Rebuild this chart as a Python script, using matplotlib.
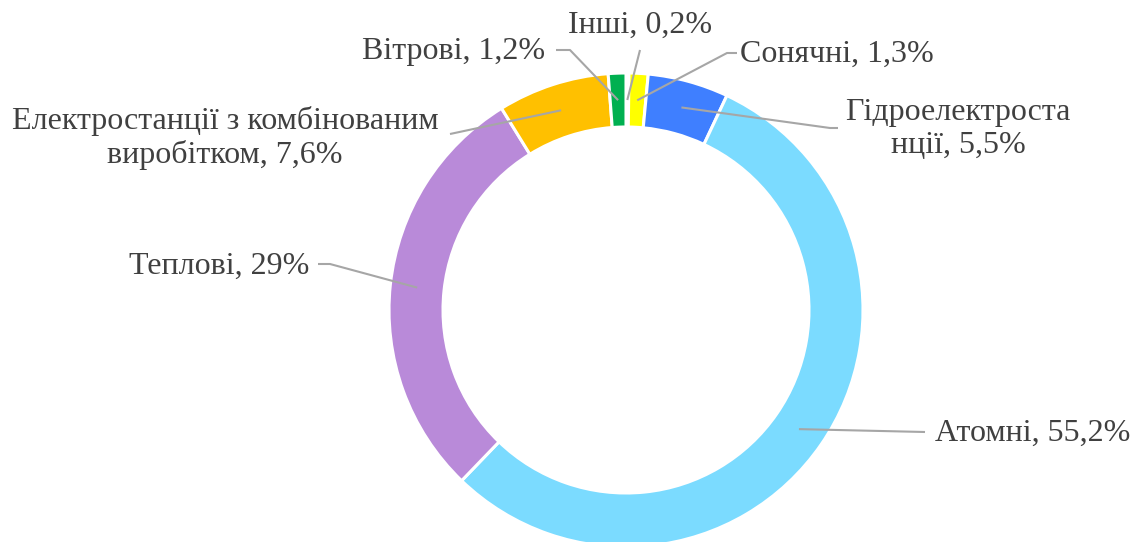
import numpy as np
import matplotlib
matplotlib.use("Agg")
import matplotlib.pyplot as plt

# Data (clockwise from 12 o'clock)
categories = ["Інші", "Сонячні", "Гідроелектроста\nнції", "Атомні", "Теплові",
              "Електростанції з комбінованим\nвиробітком", "Вітрові"]
values = [0.2, 1.3, 5.5, 55.2, 29.0, 7.6, 1.2]
value_labels = ["0,2%", "1,3%", "5,5%", "55,2%", "29%", "7,6%", "1,2%"]
colors = ["#A5A5A5", "#FFFF00", "#3F7FFF", "#7BDBFF", "#B98AD9", "#FFC000", "#00B050"]

W, H = 1130, 542
fig = plt.figure(figsize=(W / 100, H / 100), dpi=100)
ax = fig.add_axes([0, 0, 1, 1])

def Y(yp):
    return H - yp

cx, cy = 626, Y(310)
R = 237
width = 54

wedges, _ = ax.pie(values, colors=colors, startangle=90, counterclock=False,
                   radius=R, center=(cx, cy), frame=True,
                   wedgeprops=dict(width=width, edgecolor="white", linewidth=2.2))
ax.set_xlim(0, W)
ax.set_ylim(0, H)
ax.set_aspect("equal")
ax.axis("off")

rmid = R - width / 2
anchors = []
for w in wedges:
    ang = np.deg2rad((w.theta1 + w.theta2) / 2)
    anchors.append((cx + rmid * np.cos(ang), cy + rmid * np.sin(ang)))

# label layout in pixel coords
layout = [
    dict(x=640, y=25, ha="center", path=[(640, 50)]),
    dict(x=740, y=54, ha="left", path=[(727, 53), (737, 53)]),
    dict(x=958, y=129, ha="center", path=[(830, 128), (838, 128)]),
    dict(x=935, y=433, ha="left", path=[(925, 432)]),
    dict(x=309, y=266, ha="right", path=[(330, 264), (318, 264)]),
    dict(x=225, y=138, ha="center", path=[(450, 134)]),
    dict(x=545, y=51, ha="right", path=[(570, 50), (556, 50)]),
]

font = dict(family=["Liberation Serif", "DejaVu Serif"], size=23, color="#404040")
for cat, vl, anc, lay in zip(categories, value_labels, anchors, layout):
    xs = [anc[0]] + [p[0] for p in lay["path"]]
    ys = [anc[1]] + [Y(p[1]) for p in lay["path"]]
    ax.plot(xs, ys, color="#A6A6A6", lw=1.5, solid_capstyle="butt", zorder=3)
    ax.text(lay["x"], Y(lay["y"]), f"{cat}, {vl}", ha=lay["ha"], va="center",
            multialignment="center", linespacing=1.2, **font)

fig.savefig("out.png", dpi=100)
